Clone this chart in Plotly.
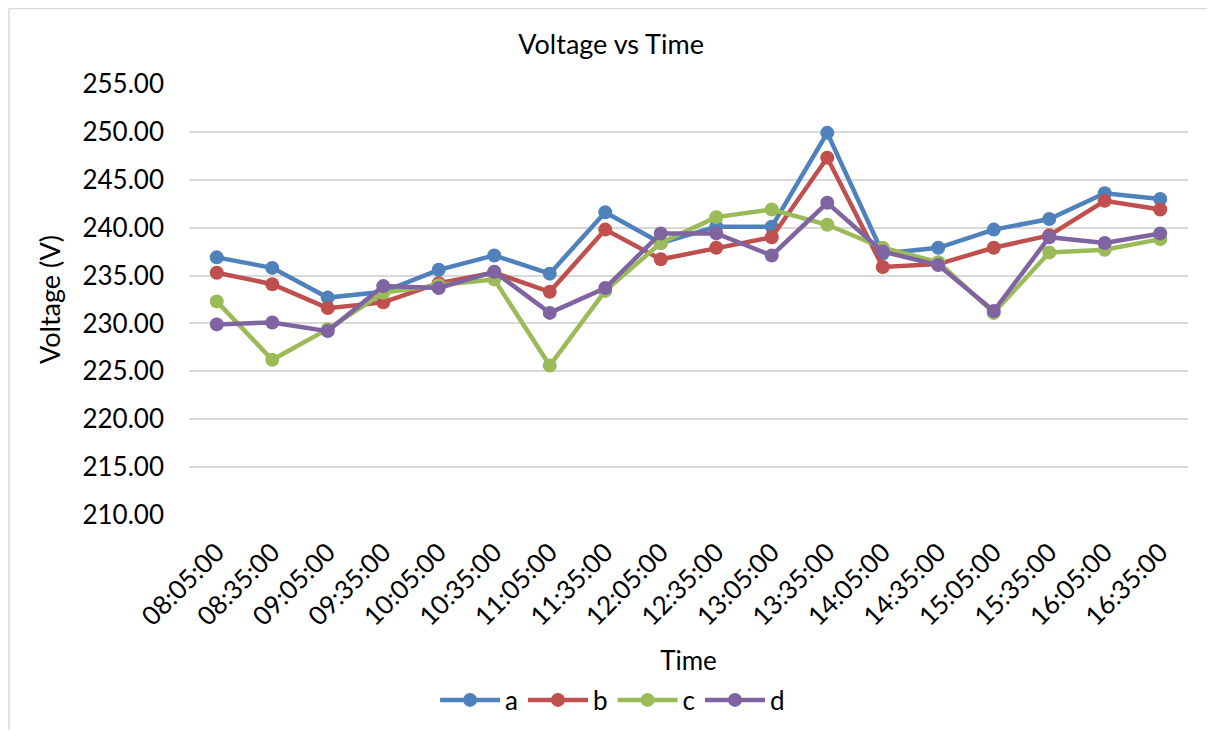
import plotly.graph_objects as go

times = ["08:05:00", "08:35:00", "09:05:00", "09:35:00", "10:05:00", "10:35:00",
         "11:05:00", "11:35:00", "12:05:00", "12:35:00", "13:05:00", "13:35:00",
         "14:05:00", "14:35:00", "15:05:00", "15:35:00", "16:05:00", "16:35:00"]

a = [236.9, 235.8, 232.7, 233.3, 235.6, 237.1, 235.2, 241.6, 238.4, 240.1, 240.1, 249.9,
     237.3, 237.9, 239.8, 240.9, 243.6, 243.0]
b = [235.3, 234.1, 231.6, 232.2, 234.2, 235.3, 233.3, 239.8, 236.7, 237.9, 239.0, 247.3,
     235.9, 236.2, 237.9, 239.2, 242.8, 241.9]
c = [232.3, 226.2, 229.4, 233.2, 234.0, 234.6, 225.6, 233.4, 238.4, 241.1, 241.9, 240.3,
     237.9, 236.4, 231.1, 237.4, 237.7, 238.8]
d = [229.9, 230.1, 229.2, 233.9, 233.7, 235.4, 231.1, 233.7, 239.4, 239.4, 237.1, 242.6,
     237.5, 236.1, 231.3, 239.0, 238.4, 239.4]

series = [("a", a, "#4F81BD"), ("b", b, "#C0504D"), ("c", c, "#9BBB59"), ("d", d, "#8064A2")]
y_ticks = [210, 215, 220, 225, 230, 235, 240, 245, 250, 255]

font_family = "Lato, Open Sans, sans-serif"
W, H = 1199, 722

fig = go.Figure()
for name, vals, color in series:
    fig.add_trace(go.Scatter(
        x=times, y=vals, name=name, mode="lines+markers",
        line=dict(color=color, width=4.5),
        marker=dict(color=color, size=14),
    ))

fig.update_layout(
    width=W, height=H,
    margin=dict(l=181, r=19, t=76, b=215),
    paper_bgcolor="white", plot_bgcolor="white",
    font=dict(family=font_family, color="#000000"),
    title=dict(text="Voltage vs Time", x=0.503, xanchor="center",
               yref="container", y=1 - 37 / H, yanchor="middle",
               font=dict(size=27, family=font_family, color="#000000")),
    showlegend=True,
    legend=dict(orientation="h", x=0.424, xanchor="center",
                yref="container", y=30 / H, yanchor="middle",
                font=dict(size=26), itemwidth=60, tracegroupgap=0),
)
fig.update_xaxes(
    type="category", tickangle=-45, tickfont=dict(size=26),
    showgrid=False, showline=False, ticks="", range=[-0.5, len(times) - 0.5],
    automargin=False, ticklabelstandoff=16,
    title=dict(text="Time", font=dict(size=26), standoff=22),
)
fig.update_yaxes(
    range=[210, 255], tickvals=y_ticks, ticktext=[f"{v:.2f}" for v in y_ticks],
    tickfont=dict(size=26), showgrid=True, gridcolor="#D9D9D9", gridwidth=1.5,
    zeroline=False, showline=False, ticks="", automargin=False, ticklabelstandoff=24,
    title=dict(text="Voltage (V)", font=dict(size=27), standoff=14),
)
border_x = -180 / 999
border_y = (431 + 75.5) / 431
fig.add_shape(type="line", xref="paper", yref="paper",
              x0=border_x, x1=1.1, y0=border_y, y1=border_y,
              line=dict(color="#D9D9D9", width=1.5))
fig.add_shape(type="line", xref="paper", yref="paper",
              x0=border_x, x1=border_x, y0=-1.0, y1=border_y,
              line=dict(color="#D9D9D9", width=1.5))

fig.write_html("out.html")
